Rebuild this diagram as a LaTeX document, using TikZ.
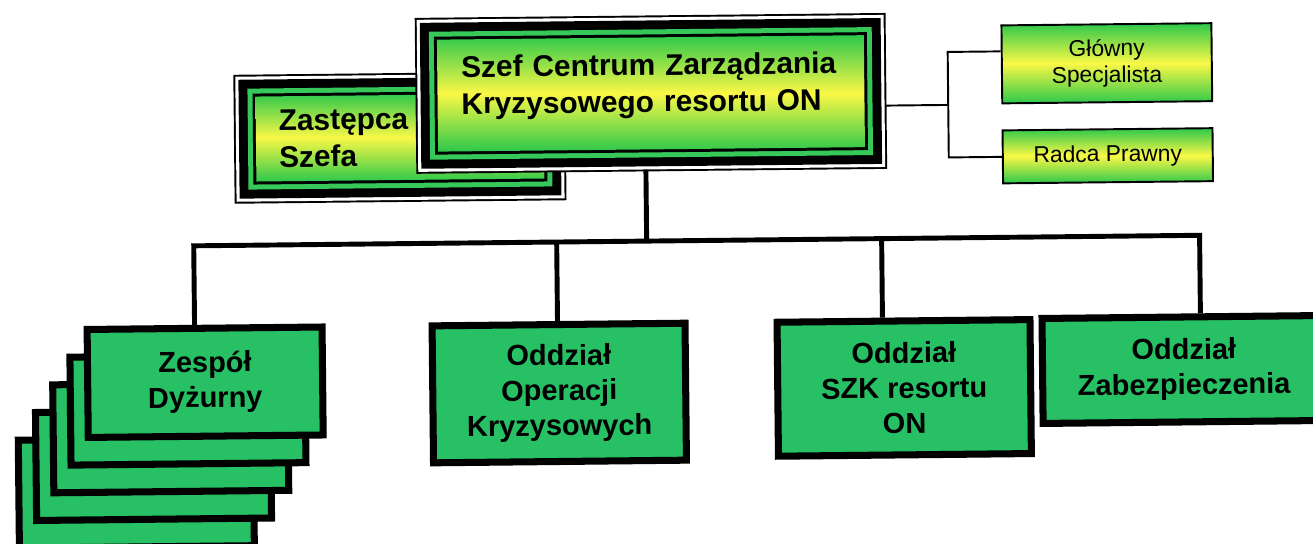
\documentclass[tikz,border=0pt]{standalone}
\usepackage{fontspec}
\setmainfont{Liberation Sans}
\usetikzlibrary{backgrounds}
\usetikzlibrary{positioning}

\definecolor{gradgreen}{RGB}{45,200,75}
\definecolor{gradyellow}{RGB}{250,248,70}
\definecolor{bandgreen}{RGB}{55,200,90}
\definecolor{unitgreen}{RGB}{40,192,100}

\tikzset{
  link/.style={line width=2.8pt},
  sidelink/.style={line width=1.1pt},
  glow/.style={top color=gradgreen, bottom color=gradgreen, middle color=gradyellow},
  % framed head box: outer hairline, white gap, black band, green band, black line
  headbox/.style={glow, rectangle, anchor=north west, align=left,
    font=\bfseries\fontsize{17}{21}\selectfont,
    preaction={draw=black, line width=25pt},
    preaction={draw=white, line width=22.8pt},
    preaction={draw=black, line width=19.3pt},
    preaction={draw=bandgreen, line width=9.1pt},
    preaction={draw=black, line width=3.4pt}},
  sidebox/.style={glow, draw, line width=1.1pt, align=center,
    minimum width=4.2cm, font=\fontsize{13}{15}\selectfont},
  unitbox/.style={draw, fill=unitgreen, line width=4pt, align=center,
    font=\bfseries\fontsize{16.5}{20}\selectfont}
}

\begin{document}
\begin{tikzpicture}[x=0.02cm, y=-0.02cm]
  % --- Definitions ---
  \def\dx{17.5} % shift of each duty team card
  \def\dy{27.5}

  \useasboundingbox (0,0) rectangle (1313,544);
  \clip (0,0) rectangle (1313,544);

  \begin{scope}[rotate around={0.6:(656,272)}, transform shape]

  % --- 1. Management ---
  \node[headbox, text width=4.84cm, inner xsep=0.46cm, minimum height=1.7cm] (zastepca) at (257,92) {Zastępca\\Szefa};
  \node[headbox, text width=7.58cm, inner xsep=0.48cm, minimum height=2.24cm, text depth=33pt] (szef) at (439,37) {Szef Centrum Zarządzania\\Kryzysowego resortu ON};

  % --- 2. Staff posts ---
  \node[sidebox, minimum height=1.56cm] (glowny) at (1109,68) {Główny\\Specjalista};
  \node[sidebox, minimum height=1.06cm] (radca) at (1109,160.5) {Radca Prawny};

  % --- 3. Divisions ---
  % duty team: a pile of cards, back ones first
  \foreach \i in {4,3,2,1}
    \node[unitbox, minimum width=4.7cm, minimum height=2.16cm] (zespol\i) at ({204-\dx*\i},{377.5+\dy*\i}) {};
  \node[unitbox, minimum width=4.7cm, minimum height=2.16cm] (zespol) at (204,377.5) {Zespół\\Dyżurny};
  \node[unitbox, minimum width=5.06cm, minimum height=2.74cm] (operacje) at (558,392) {Oddział\\Operacji\\Kryzysowych};
  \node[unitbox, minimum width=5.06cm, minimum height=2.68cm] (szk) at (903,390.5) {Oddział\\SZK resortu\\ON};
  \node[unitbox, minimum width=5.66cm, minimum height=2.1cm] (zabezp) at (1183,375) {Oddział\\Zabezpieczenia};

  % --- 4. Connectors ---
  \coordinate (j0) at (647,241);
  \coordinate (j1) at (194,241);
  \coordinate (j2) at (557,241);
  \coordinate (j3) at (882,241);
  \coordinate (j4) at (1200,241);
  \coordinate (sj) at (950,108);
  \coordinate (sj1) at (950,55);

  \begin{pgfonlayer}{background}
    \draw[link] (j0 |- szef.south) -- (j0);
    \draw[link] (j1 |- zespol.north) -- (j1) -- (j4) -- (j4 |- zabezp.north);
    \draw[link] (j2) -- (j2 |- operacje.north);
    \draw[link] (j3) -- (j3 |- szk.north);
    \draw[sidelink] (szef.east |- sj) -- (sj);
    \draw[sidelink] (glowny.west |- sj1) -- (sj1) -- (sj1 |- radca.west) -- (radca.west);
  \end{pgfonlayer}

  \end{scope}
\end{tikzpicture}
\end{document}
